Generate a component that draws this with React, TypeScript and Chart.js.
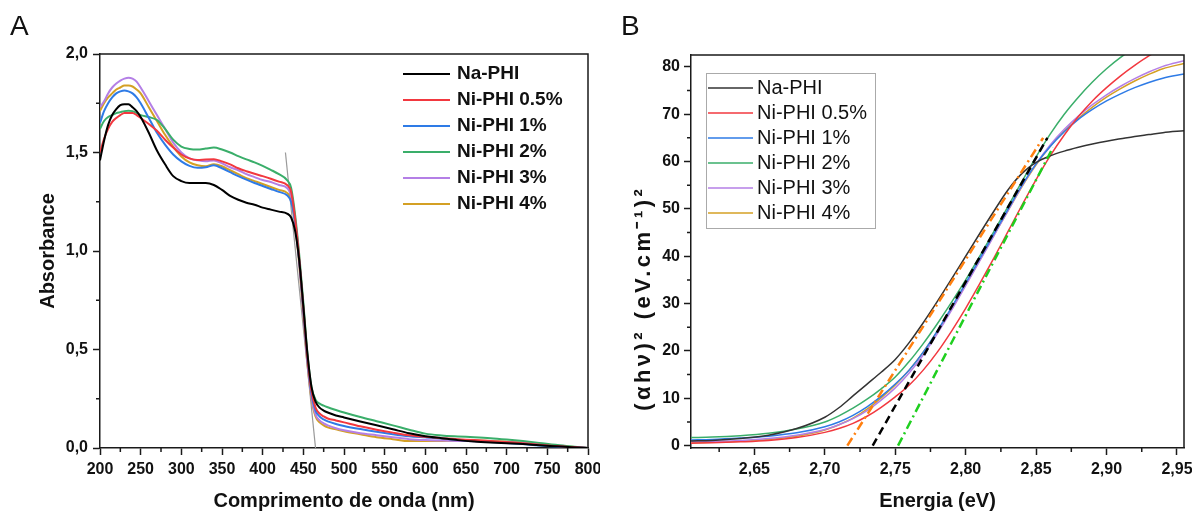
import React, { useEffect, useRef } from 'react';
import { Chart, registerables } from 'chart.js';

Chart.register(...registerables);

const FONT = "'Liberation Sans', Arial, Helvetica, sans-serif";

// ---------------- Panel A : UV-Vis absorbance ----------------
const wavelengthNm = [200, 205, 210, 215, 220, 225, 230, 235, 240, 245, 250, 260, 270, 280, 290, 300, 310, 320, 330, 340, 350, 360, 370, 380, 390, 400, 410, 420, 430, 435, 440, 445, 450, 455, 460, 465, 470, 475, 480, 490, 500, 520, 540, 560, 580, 600, 620, 640, 660, 680, 700, 720, 740, 760, 780, 800];
const absNaPHI = [1.46, 1.56, 1.64, 1.69, 1.72, 1.74, 1.745, 1.745, 1.73, 1.71, 1.68, 1.6, 1.51, 1.44, 1.38, 1.355, 1.345, 1.345, 1.345, 1.335, 1.31, 1.28, 1.26, 1.245, 1.235, 1.22, 1.21, 1.2, 1.19, 1.17, 1.1, 0.95, 0.72, 0.48, 0.31, 0.235, 0.205, 0.19, 0.18, 0.165, 0.155, 0.135, 0.115, 0.095, 0.075, 0.06, 0.05, 0.04, 0.033, 0.028, 0.024, 0.02, 0.014, 0.009, 0.004, 0];
const absNi05 = [1.5, 1.57, 1.62, 1.655, 1.675, 1.69, 1.7, 1.7, 1.7, 1.69, 1.675, 1.645, 1.61, 1.565, 1.525, 1.49, 1.47, 1.462, 1.465, 1.466, 1.455, 1.44, 1.42, 1.405, 1.392, 1.38, 1.367, 1.352, 1.335, 1.3, 1.16, 0.96, 0.71, 0.46, 0.29, 0.205, 0.175, 0.16, 0.15, 0.14, 0.13, 0.11, 0.093, 0.078, 0.065, 0.057, 0.05, 0.045, 0.04, 0.035, 0.03, 0.024, 0.017, 0.01, 0.005, 0];
const absNi1 = [1.65, 1.71, 1.75, 1.78, 1.8, 1.81, 1.815, 1.81, 1.8, 1.78, 1.75, 1.675, 1.6, 1.54, 1.49, 1.455, 1.432, 1.422, 1.425, 1.435, 1.42, 1.4, 1.38, 1.362, 1.345, 1.33, 1.315, 1.3, 1.283, 1.25, 1.14, 0.95, 0.7, 0.45, 0.275, 0.19, 0.16, 0.145, 0.135, 0.122, 0.112, 0.096, 0.082, 0.07, 0.06, 0.054, 0.048, 0.042, 0.036, 0.031, 0.026, 0.02, 0.013, 0.008, 0.004, 0];
const absNi2 = [1.62, 1.66, 1.68, 1.69, 1.7, 1.705, 1.71, 1.712, 1.71, 1.7, 1.69, 1.68, 1.665, 1.62, 1.565, 1.53, 1.518, 1.515, 1.52, 1.525, 1.515, 1.5, 1.482, 1.465, 1.45, 1.432, 1.412, 1.39, 1.36, 1.32, 1.18, 0.98, 0.74, 0.48, 0.31, 0.245, 0.225, 0.215, 0.207, 0.193, 0.18, 0.157, 0.136, 0.115, 0.093, 0.073, 0.064, 0.059, 0.055, 0.05, 0.043, 0.035, 0.026, 0.016, 0.008, 0];
const absNi3 = [1.73, 1.76, 1.8, 1.83, 1.85, 1.865, 1.875, 1.88, 1.875, 1.86, 1.83, 1.76, 1.69, 1.62, 1.55, 1.5, 1.47, 1.46, 1.455, 1.46, 1.445, 1.425, 1.41, 1.39, 1.375, 1.36, 1.35, 1.335, 1.32, 1.28, 1.14, 0.94, 0.69, 0.44, 0.26, 0.17, 0.14, 0.125, 0.115, 0.1, 0.09, 0.075, 0.065, 0.055, 0.045, 0.04, 0.038, 0.036, 0.034, 0.032, 0.03, 0.025, 0.018, 0.01, 0.005, 0];
const absNi4 = [1.71, 1.75, 1.78, 1.8, 1.82, 1.83, 1.84, 1.84, 1.835, 1.82, 1.8, 1.73, 1.66, 1.59, 1.53, 1.48, 1.45, 1.435, 1.43, 1.44, 1.43, 1.41, 1.39, 1.37, 1.355, 1.34, 1.325, 1.31, 1.295, 1.26, 1.13, 0.93, 0.68, 0.43, 0.25, 0.16, 0.13, 0.115, 0.105, 0.095, 0.085, 0.07, 0.055, 0.045, 0.035, 0.035, 0.036, 0.037, 0.038, 0.036, 0.032, 0.027, 0.02, 0.012, 0.006, 0];
const wavelengthTicks = [200, 250, 300, 350, 400, 450, 500, 550, 600, 650, 700, 750, 800];
const absorbanceTicks = [0, 0.5, 1.0, 1.5, 2.0];
const edgeTangentX = [428, 465];
const edgeTangentY = [1.5, 0];

// ---------------- Panel B : Tauc plot ----------------
const energyEv = [2.605, 2.62, 2.64, 2.66, 2.68, 2.7, 2.71, 2.72, 2.73, 2.74, 2.75, 2.76, 2.77, 2.78, 2.79, 2.8, 2.81, 2.82, 2.83, 2.84, 2.85, 2.86, 2.87, 2.88, 2.89, 2.9, 2.91, 2.92, 2.93, 2.94, 2.955];
const taucNaPHI = [1.0, 1.1, 1.5, 2.2, 3.6, 6.0, 8.0, 10.5, 13.0, 15.5, 18.2, 21.8, 26.0, 30.5, 35.2, 40, 44.8, 49.5, 54, 57.5, 59.8, 61.2, 62.2, 63, 63.7, 64.3, 64.8, 65.3, 65.7, 66.1, 66.5];
const taucNi05 = [0.5, 0.6, 0.8, 1.1, 1.7, 2.8, 3.6, 4.7, 6.2, 8.1, 10.3, 12.8, 16, 19.8, 24.2, 29, 34.2, 39.6, 45.2, 50.8, 56.2, 61.2, 65.6, 69.5, 72.8, 75.6, 78.1, 80.3, 82.3, 84, 86];
const taucNi1 = [1.2, 1.3, 1.6, 2.0, 2.7, 4.0, 5.0, 6.4, 8.2, 10.4, 13, 16, 19.8, 24.3, 29.2, 34.3, 39.5, 44.7, 49.9, 55, 59.5, 63.2, 66.3, 68.9, 71, 72.8, 74.3, 75.6, 76.7, 77.6, 78.5];
const taucNi2 = [1.7, 1.8, 2.1, 2.6, 3.5, 5.0, 6.3, 7.9, 9.8, 12.0, 14.5, 17.8, 21.6, 25.8, 30.3, 35, 40, 45.2, 50.5, 55.8, 61, 65.8, 70, 73.6, 76.8, 79.6, 82, 84, 85.5, 86.8, 88];
const taucNi3 = [0.8, 0.9, 1.1, 1.5, 2.2, 3.4, 4.4, 5.7, 7.4, 9.6, 12.2, 15.4, 19.2, 23.7, 28.6, 33.8, 39, 44.3, 49.6, 54.8, 59.5, 63.5, 66.8, 69.6, 72, 74.1, 75.9, 77.5, 78.9, 80.1, 81.3];
const taucNi4 = [0.6, 0.7, 0.9, 1.3, 2.0, 3.3, 4.4, 5.8, 7.7, 10.1, 12.8, 16, 19.8, 24.2, 29, 34, 39.2, 44.4, 49.6, 54.7, 59.3, 63.2, 66.4, 69.1, 71.5, 73.6, 75.4, 77, 78.4, 79.6, 80.7];
const energyTicks = [2.65, 2.7, 2.75, 2.8, 2.85, 2.9, 2.95];
const taucTicks = [0, 10, 20, 30, 40, 50, 60, 70, 80];
const fitOrangeX = [2.716, 2.855];
const fitOrangeY = [0, 65];
const fitBlackX = [2.734, 2.858];
const fitBlackY = [0, 65];
const fitGreenX = [2.752, 2.862];
const fitGreenY = [0, 63];

const seriesLabels = ['Na-PHI', 'Ni-PHI 0.5%', 'Ni-PHI 1%', 'Ni-PHI 2%', 'Ni-PHI 3%', 'Ni-PHI 4%'];
const colorsA = ['#000000', '#F2383F', '#2E7BE6', '#3AAE6A', '#B47FE6', '#D4A024'];
const colorsB = ['#333333', '#F2383F', '#2E7BE6', '#3AAE6A', '#B47FE6', '#D4A024'];

const toXY = (xs: number[], ys: number[]) => xs.map((x, i) => ({ x, y: ys[i] }));
const minorOf = (ticks: number[], min: number) => {
  const step = ticks[1] - ticks[0];
  return ticks.map((t) => t - step / 2).filter((v) => v > min);
};

const frameMinorPlugin = {
  id: 'frameMinor',
  afterDatasetsDraw(chart: any, _args: any, o: any) {
    const { ctx, chartArea: a } = chart;
    const xs = chart.scales.x;
    const ys = chart.scales.y;
    ctx.save();
    ctx.strokeStyle = o.color;
    ctx.lineWidth = o.width;
    ctx.beginPath();
    for (const v of o.xMinor) {
      const p = xs.getPixelForValue(v);
      ctx.moveTo(p, a.bottom);
      ctx.lineTo(p, a.bottom + o.minorLen);
    }
    for (const v of o.yMinor) {
      const p = ys.getPixelForValue(v);
      ctx.moveTo(a.left, p);
      ctx.lineTo(a.left - o.minorLen, p);
    }
    ctx.stroke();
    ctx.beginPath();
    ctx.moveTo(a.left, a.top);
    ctx.lineTo(a.right, a.top);
    ctx.lineTo(a.right, a.bottom);
    ctx.stroke();
    ctx.restore();
  },
};

const innerLegendPlugin = {
  id: 'innerLegend',
  afterDraw(chart: any, _args: any, o: any) {
    const ctx = chart.ctx;
    ctx.save();
    if (o.box) {
      ctx.fillStyle = '#ffffff';
      ctx.fillRect(o.box.x, o.box.y, o.box.w, o.box.h);
      ctx.strokeStyle = o.box.color;
      ctx.lineWidth = 1;
      ctx.strokeRect(o.box.x + 0.5, o.box.y + 0.5, o.box.w, o.box.h);
    }
    ctx.font = o.font;
    ctx.textBaseline = 'middle';
    ctx.textAlign = 'left';
    const items = chart.data.datasets.filter((d: any) => d.inLegend);
    items.forEach((d: any, i: number) => {
      const y = o.y + i * o.rowH;
      ctx.strokeStyle = d.borderColor;
      ctx.lineWidth = o.lineWidth;
      ctx.beginPath();
      ctx.moveTo(o.x, y);
      ctx.lineTo(o.x + o.lineLen, y);
      ctx.stroke();
      ctx.fillStyle = o.textColor;
      ctx.fillText(d.label, o.x + o.lineLen + o.gap, y);
    });
    ctx.restore();
  },
};

// rotated y-axis title of panel B
const rotTitlePlugin = {
  id: 'rotTitle',
  afterDraw(chart: any, _args: any, o: any) {
    if (!o || !o.text) return;
    const ctx = chart.ctx;
    ctx.save();
    ctx.translate(o.x, o.y);
    ctx.rotate(-Math.PI / 2);
    ctx.font = o.font;
    ctx.fillStyle = o.color;
    ctx.textAlign = 'center';
    ctx.textBaseline = 'middle';
    const w = ctx.measureText(o.text).width;
    const n = Array.from(o.text as string).length;
    if ('letterSpacing' in ctx && o.length > w) {
      const sp = (o.length - w) / n;
      (ctx as any).letterSpacing = `${sp.toFixed(2)}px`;
      ctx.fillText(o.text, sp / 2, 0);
    } else {
      ctx.fillText(o.text, 0, 0);
    }
    ctx.restore();
  },
};

const AXIS = '#1a1a1a';
const tickFont = { family: FONT, size: 16, weight: 'bold' as const };

function axisGrid() {
  return {
    display: true,
    drawOnChartArea: false,
    drawTicks: true,
    tickLength: 7,
    tickWidth: 1.5,
    tickColor: AXIS,
    color: AXIS,
  };
}

function makeConfigA(): any {
  const series = [absNaPHI, absNi05, absNi1, absNi2, absNi3, absNi4];
  const datasets: any[] = series.map((ys, i) => ({
    label: seriesLabels[i],
    data: toXY(wavelengthNm, ys),
    borderColor: colorsA[i],
    borderWidth: 2,
    pointRadius: 0,
    cubicInterpolationMode: 'monotone',
    inLegend: true,
  }));
  datasets.push({
    label: 'tangent',
    data: toXY(edgeTangentX, edgeTangentY),
    borderColor: '#9a9a9a',
    borderWidth: 1.2,
    pointRadius: 0,
    inLegend: false,
  });
  return {
    type: 'line',
    data: { datasets },
    plugins: [frameMinorPlugin, innerLegendPlugin],
    options: {
      animation: false,
      responsive: false,
      maintainAspectRatio: false,
      layout: { padding: { left: 0, top: 54, right: 12, bottom: 0 }, autoPadding: false },
      plugins: {
        legend: { display: false },
        tooltip: { enabled: false },
        frameMinor: {
          color: AXIS,
          width: 1.5,
          minorLen: 4,
          xMinor: minorOf(wavelengthTicks, 200),
          yMinor: minorOf(absorbanceTicks, 0),
        },
        innerLegend: {
          x: 403,
          y: 74,
          rowH: 26,
          lineLen: 47,
          gap: 7,
          lineWidth: 2,
          font: `bold 19px ${FONT}`,
          textColor: '#111',
        },
      },
      scales: {
        x: {
          type: 'linear',
          min: 200,
          max: 800,
          afterBuildTicks: (s: any) => {
            s.ticks = wavelengthTicks.map((v) => ({ value: v }));
          },
          afterFit: (s: any) => {
            s.height = 65;
            s.paddingLeft = 0;
            s.paddingRight = 0;
          },
          ticks: { font: tickFont, color: '#111', padding: 5, maxRotation: 0, autoSkip: false, callback: (v: any) => String(v) },
          grid: axisGrid(),
          border: { display: true, color: AXIS, width: 1.5 },
          title: {
            display: true,
            text: 'Comprimento de onda (nm)',
            color: '#111',
            font: { family: FONT, size: 20, weight: 'bold', lineHeight: 1.2 },
            padding: { top: 0, bottom: 0 },
          },
        },
        y: {
          type: 'linear',
          min: 0,
          max: 2,
          afterBuildTicks: (s: any) => {
            s.ticks = absorbanceTicks.map((v) => ({ value: v }));
          },
          afterFit: (s: any) => {
            s.width = 100;
            s.paddingTop = 0;
            s.paddingBottom = 0;
          },
          ticks: { font: tickFont, color: '#111', padding: 5, autoSkip: false, callback: (v: any) => Number(v).toFixed(1).replace('.', ',') },
          grid: axisGrid(),
          border: { display: true, color: AXIS, width: 1.5 },
          title: {
            display: true,
            text: 'Absorbance',
            color: '#111',
            font: { family: FONT, size: 20, weight: 'bold', lineHeight: 1.2 },
            padding: { top: 36, bottom: 0 },
          },
        },
      },
    },
  };
}

function makeConfigB(): any {
  const fits: any[] = [
    { label: 'fit1', data: toXY(fitOrangeX, fitOrangeY), borderColor: '#FF7F0E', borderDash: [9, 4, 2, 4] },
    { label: 'fit2', data: toXY(fitBlackX, fitBlackY), borderColor: '#000000', borderDash: [8, 5] },
    { label: 'fit3', data: toXY(fitGreenX, fitGreenY), borderColor: '#1FCF1F', borderDash: [9, 4, 2, 4] },
  ].map((d) => ({ ...d, borderWidth: 2.5, pointRadius: 0, inLegend: false }));
  const series = [taucNaPHI, taucNi05, taucNi1, taucNi2, taucNi3, taucNi4];
  const curves = series.map((ys, i) => ({
    label: seriesLabels[i],
    data: toXY(energyEv, ys),
    borderColor: colorsB[i],
    borderWidth: 1.5,
    pointRadius: 0,
    cubicInterpolationMode: 'monotone',
    inLegend: true,
  }));
  return {
    type: 'line',
    data: { datasets: [...fits, ...curves] },
    plugins: [frameMinorPlugin, innerLegendPlugin, rotTitlePlugin],
    options: {
      animation: false,
      responsive: false,
      maintainAspectRatio: false,
      layout: { padding: { left: 0, top: 55, right: 8, bottom: 0 }, autoPadding: false },
      plugins: {
        legend: { display: false },
        tooltip: { enabled: false },
        frameMinor: {
          color: AXIS,
          width: 1.5,
          minorLen: 4,
          xMinor: minorOf(energyTicks, 2.605),
          yMinor: minorOf(taucTicks, 0),
        },
        innerLegend: {
          box: { x: 106, y: 73, w: 169, h: 155, color: '#aaaaaa' },
          x: 108,
          y: 88,
          rowH: 25,
          lineLen: 45,
          gap: 4,
          lineWidth: 1.5,
          font: `20px ${FONT}`,
          textColor: '#111',
        },
        rotTitle: {
          text: '(\u03B1h\u03BD)\u00B2 (eV.cm\u207B\u00B9)\u00B2',
          x: 44,
          y: 300,
          length: 225,
          font: `bold 22px ${FONT}`,
          color: '#111',
        },
      },
      scales: {
        x: {
          type: 'linear',
          min: 2.605,
          max: 2.955,
          afterBuildTicks: (s: any) => {
            s.ticks = energyTicks.map((v) => ({ value: v }));
          },
          afterFit: (s: any) => {
            s.height = 65;
            s.paddingLeft = 0;
            s.paddingRight = 0;
          },
          ticks: { font: tickFont, color: '#111', padding: 5, maxRotation: 0, autoSkip: false, callback: (v: any) => Number(v).toFixed(2).replace('.', ',') },
          grid: axisGrid(),
          border: { display: true, color: AXIS, width: 1.5 },
          title: {
            display: true,
            text: 'Energia (eV)',
            color: '#111',
            font: { family: FONT, size: 20, weight: 'bold', lineHeight: 1.2 },
            padding: { top: 0, bottom: 0 },
          },
        },
        y: {
          type: 'linear',
          min: -0.5,
          max: 82.5,
          afterBuildTicks: (s: any) => {
            s.ticks = taucTicks.map((v) => ({ value: v }));
          },
          afterFit: (s: any) => {
            s.width = 91;
            s.paddingTop = 0;
            s.paddingBottom = 0;
          },
          ticks: { font: tickFont, color: '#111', padding: 4, autoSkip: false, callback: (v: any) => String(v) },
          grid: axisGrid(),
          border: { display: true, color: AXIS, width: 1.5 },
          title: { display: false },
        },
      },
    },
  };
}

export default function App() {
  const refA = useRef<HTMLCanvasElement | null>(null);
  const refB = useRef<HTMLCanvasElement | null>(null);

  useEffect(() => {
    document.body.style.margin = '0';
    document.body.style.background = '#ffffff';
    const a = new Chart(refA.current as HTMLCanvasElement, makeConfigA());
    const b = new Chart(refB.current as HTMLCanvasElement, makeConfigB());
    return () => {
      a.destroy();
      b.destroy();
    };
  }, []);

  const letter: React.CSSProperties = {
    position: 'absolute',
    top: 10,
    fontFamily: FONT,
    fontSize: 28,
    color: '#111',
    lineHeight: '32px',
  };

  return (
    <div style={{ position: 'relative', width: 1192, height: 513, background: '#ffffff', overflow: 'hidden' }}>
      <canvas ref={refA} width={600} height={513} style={{ position: 'absolute', left: 0, top: 0, width: 600, height: 513 }} />
      <canvas ref={refB} width={592} height={513} style={{ position: 'absolute', left: 600, top: 0, width: 592, height: 513 }} />
      <div style={{ ...letter, left: 10 }}>A</div>
      <div style={{ ...letter, left: 621 }}>B</div>
    </div>
  );
}
